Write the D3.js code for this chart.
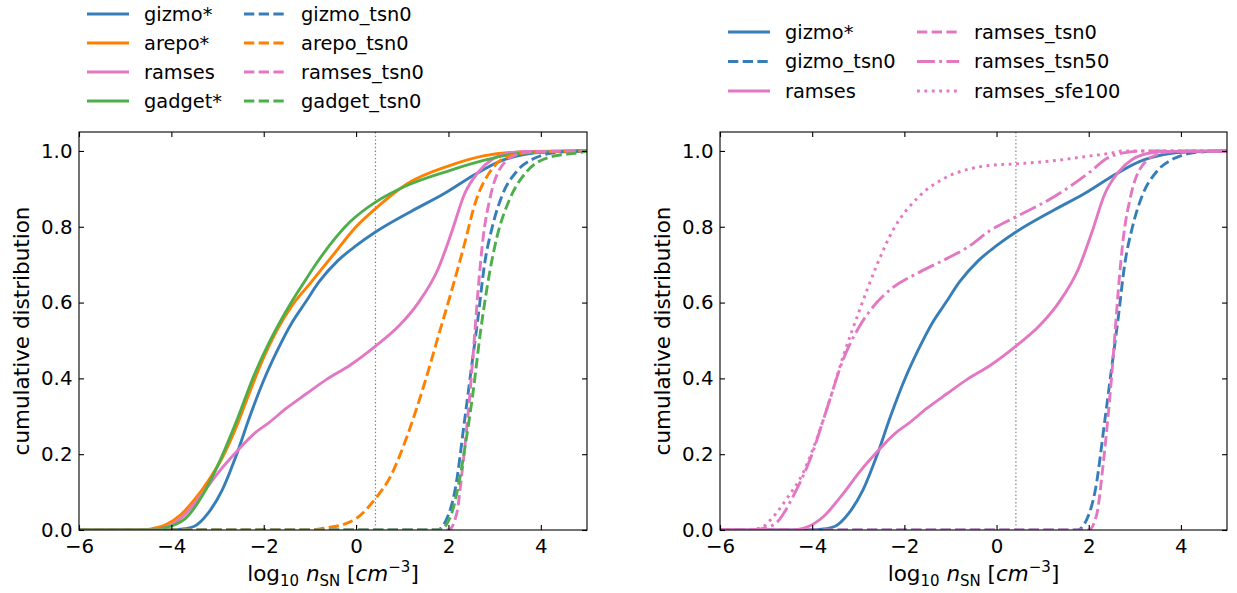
<!DOCTYPE html>
<html>
<head>
<meta charset="utf-8">
<script src="https://cdn.jsdelivr.net/npm/d3@7"></script>
<style>
  body { margin: 0; background: #fff; }
  svg { display: block; font-family: "DejaVu Sans", sans-serif; }
  .tick text { fill: #000; }
  .tick line { stroke: #000; stroke-width: 1.1px; }
</style>
</head>
<body>
<svg id="chart" width="1237" height="593"></svg>
<script>
// cumulative distributions, [log10 n, fraction]
const gizmo = [[-6,0],[-4.0,0],[-3.8,0.002],[-3.5,0.01],[-3.2,0.045],[-2.9,0.105],[-2.6,0.195],[-2.3,0.3],[-2.0,0.395],[-1.7,0.475],[-1.4,0.545],[-1.1,0.6],[-0.8,0.655],[-0.4,0.71],[0.0,0.75],[0.42,0.786],[1.2,0.841],[1.9,0.887],[2.6,0.94],[3.1,0.972],[3.6,0.99],[4.2,0.998],[5,1]];
const arepo = [[-6,0],[-4.6,0],[-4.4,0.004],[-4.1,0.015],[-3.8,0.04],[-3.5,0.08],[-3.2,0.13],[-2.9,0.19],[-2.6,0.27],[-2.3,0.365],[-2.0,0.455],[-1.7,0.53],[-1.4,0.59],[-1.0,0.65],[-0.5,0.725],[0.0,0.8],[0.42,0.848],[1.1,0.913],[2.04,0.962],[2.76,0.987],[3.5,0.997],[5,1]];
const ramses = [[-6,0],[-4.4,0],[-4.2,0.004],[-3.74,0.037],[-3.38,0.088],[-2.94,0.158],[-2.6,0.205],[-2.2,0.255],[-1.9,0.282],[-1.5,0.322],[-1.07,0.36],[-0.63,0.398],[-0.14,0.434],[0.42,0.485],[0.94,0.54],[1.35,0.6],[1.78,0.69],[2.07,0.786],[2.35,0.887],[2.65,0.945],[2.95,0.978],[3.3,0.994],[3.7,0.999],[5,1]];
const gadget = [[-6,0],[-4.4,0],[-4.2,0.004],[-3.9,0.015],[-3.7,0.03],[-3.3,0.097],[-2.94,0.185],[-2.58,0.29],[-2.22,0.405],[-1.86,0.5],[-1.43,0.595],[-1.14,0.651],[-0.85,0.705],[-0.13,0.813],[0.42,0.865],[1.1,0.909],[2.04,0.949],[2.76,0.975],[3.48,0.993],[4.2,0.998],[5,1]];

const gizmoTsn0 = [[-6,0],[1.75,0],[1.95,0.026],[2.15,0.11],[2.35,0.29],[2.5,0.43],[2.64,0.56],[2.78,0.7],[2.95,0.8],[3.17,0.885],[3.47,0.945],[3.85,0.98],[4.4,0.997],[5,1]];
const arepoTsn0 = [[-6,0],[-1.0,0],[-0.7,0.005],[-0.35,0.012],[0.0,0.03],[0.42,0.083],[0.74,0.14],[1.1,0.246],[1.46,0.378],[1.82,0.528],[2.03,0.615],[2.32,0.742],[2.61,0.874],[2.9,0.945],[3.26,0.984],[3.84,0.997],[5,1]];
const ramsesTsn0 = [[-6,0],[2.0,0],[2.17,0.039],[2.31,0.17],[2.42,0.3],[2.5,0.41],[2.57,0.52],[2.64,0.63],[2.75,0.77],[2.89,0.87],[3.1,0.95],[3.47,0.99],[3.8,0.998],[5,1]];
const gadgetTsn0 = [[-6,0],[1.8,0],[2.03,0.031],[2.21,0.114],[2.36,0.22],[2.54,0.37],[2.68,0.51],[2.85,0.65],[3.04,0.768],[3.33,0.874],[3.69,0.945],[4.2,0.984],[4.9,0.997],[5,1]];

const ramsesTsn50 = [[-6,0],[-5.3,0],[-5.0,0.006],[-4.76,0.021],[-4.4,0.092],[-4.04,0.188],[-3.68,0.32],[-3.32,0.452],[-2.96,0.54],[-2.6,0.6],[-2.3,0.635],[-1.66,0.681],[-1.08,0.716],[-0.64,0.745],[-0.14,0.79],[0.42,0.826],[1.3,0.883],[2.03,0.945],[2.39,0.98],[2.75,0.995],[3.2,1],[5,1]];
const ramsesSfe100 = [[-6,0],[-5.6,0],[-5.12,0.005],[-4.91,0.026],[-4.55,0.083],[-4.19,0.153],[-3.9,0.241],[-3.61,0.347],[-3.32,0.461],[-2.96,0.584],[-2.6,0.698],[-2.23,0.795],[-1.73,0.874],[-1.15,0.927],[-0.57,0.953],[-0.14,0.962],[0.42,0.966],[1.3,0.975],[2.03,0.987],[2.6,0.997],[2.7,1],[5,1]];

const xTicks = [-6, -4, -2, 0, 2, 4];
const yTicks = [0, 0.2, 0.4, 0.6, 0.8, 1.0];
const nCut = 0.42; // dotted reference density

const colors = { blue: "#377eb8", orange: "#ff7f00", pink: "#e377c2", green: "#4daf4a" };
const LW = 2.9;
const dashes = {
    solid: null,
    dashed: "10.3,4.4",
    dashdot: "17.8,4.4,2.8,4.4",
    dotted: "2.8,4.6"
};

const leftSeries = [
    { name: "gizmo*", data: gizmo, color: colors.blue, style: "solid" },
    { name: "arepo*", data: arepo, color: colors.orange, style: "solid" },
    { name: "ramses", data: ramses, color: colors.pink, style: "solid" },
    { name: "gadget*", data: gadget, color: colors.green, style: "solid" },
    { name: "gizmo_tsn0", data: gizmoTsn0, color: colors.blue, style: "dashed" },
    { name: "arepo_tsn0", data: arepoTsn0, color: colors.orange, style: "dashed" },
    { name: "ramses_tsn0", data: ramsesTsn0, color: colors.pink, style: "dashed" },
    { name: "gadget_tsn0", data: gadgetTsn0, color: colors.green, style: "dashed" }
];
const rightSeries = [
    { name: "gizmo*", data: gizmo, color: colors.blue, style: "solid" },
    { name: "gizmo_tsn0", data: gizmoTsn0, color: colors.blue, style: "dashed" },
    { name: "ramses", data: ramses, color: colors.pink, style: "solid" },
    { name: "ramses_tsn0", data: ramsesTsn0, color: colors.pink, style: "dashed" },
    { name: "ramses_tsn50", data: ramsesTsn50, color: colors.pink, style: "dashdot" },
    { name: "ramses_sfe100", data: ramsesSfe100, color: colors.pink, style: "dotted" }
];

const svg = d3.select("#chart");

function drawPanel(id, box, series, legend){
    let g = svg.append("g").attr("class", "panel").attr("id", id);
    let w = box.x1 - box.x0, h = box.y1 - box.y0;

    let x = d3.scaleLinear().domain([-6, 5]).range([box.x0, box.x1]);
    let y = d3.scaleLinear().domain([0, 1.05]).range([box.y1, box.y0]);

    g.append("defs").append("clipPath")
        .attr("id", `${id}-clip`)
      .append("rect")
        .attr("x", box.x0).attr("y", box.y0)
        .attr("width", w).attr("height", h);

    //reference line
    g.append("line")
        .attr("x1", x(nCut)).attr("x2", x(nCut))
        .attr("y1", box.y0).attr("y2", box.y1)
        .attr("stroke", "#808080")
        .attr("stroke-width", 1.2)
        .attr("stroke-dasharray", "1.4,2.3");

    let line = d3.line()
        .x(d => x(d[0]))
        .y(d => y(d[1]))
        .curve(d3.curveMonotoneX);

    g.append("g")
        .attr("clip-path", `url(#${id}-clip)`)
        .selectAll("path")
        .data(series)
      .join("path")
        .attr("d", d => line(d.data))
        .attr("fill", "none")
        .attr("stroke", d => d.color)
        .attr("stroke-width", LW)
        .attr("stroke-dasharray", d => dashes[d.style]);

    //axes, ticks pointing in on all four sides
    g.append("g")
        .attr("transform", `translate(0,${box.y1})`)
        .call(d3.axisBottom(x).tickValues(xTicks).tickSize(-5).tickPadding(8.5).tickFormat(d3.format("d")));
    g.append("g")
        .attr("transform", `translate(0,${box.y0})`)
        .call(d3.axisTop(x).tickValues(xTicks).tickSize(-5).tickFormat(""));
    g.append("g")
        .attr("transform", `translate(${box.x0},0)`)
        .call(d3.axisLeft(y).tickValues(yTicks).tickSize(-5).tickPadding(6.5).tickFormat(d3.format(".1f")));
    g.append("g")
        .attr("transform", `translate(${box.x1},0)`)
        .call(d3.axisRight(y).tickValues(yTicks).tickSize(-5).tickFormat(""));
    g.selectAll(".domain").remove();
    g.selectAll(".tick text").attr("font-family", "DejaVu Sans").attr("font-size", "19.8px");

    g.append("rect")
        .attr("x", box.x0).attr("y", box.y0)
        .attr("width", w).attr("height", h)
        .attr("fill", "none")
        .attr("stroke", "#000")
        .attr("stroke-width", 1.1);

    //axis labels
    g.append("text")
        .attr("transform", `translate(${box.x0 - 50},${(box.y0 + box.y1) / 2}) rotate(-90)`)
        .attr("text-anchor", "middle")
        .attr("font-size", "21.5px")
        .text("cumulative distribution");

    let xl = g.append("text")
        .attr("x", (box.x0 + box.x1) / 2)
        .attr("y", 581)
        .attr("text-anchor", "middle")
        .attr("font-size", "21.5px");
    xl.append("tspan").text("log");
    xl.append("tspan").attr("font-size", "15px").attr("dy", 4.5).text("10");
    xl.append("tspan").attr("dy", -4.5).attr("font-style", "italic").text(" n");
    xl.append("tspan").attr("font-size", "15px").attr("dy", 4.5).text("SN");
    xl.append("tspan").attr("dy", -4.5).text(" [");
    xl.append("tspan").attr("font-style", "italic").text("cm");
    xl.append("tspan").attr("font-size", "15px").attr("dy", -9).text("\u22123");
    xl.append("tspan").attr("dy", 9).text("]");

    //legend, filled column by column
    let items = g.append("g").attr("class", "legend")
        .selectAll("g")
        .data(series)
      .join("g")
        .attr("transform", (d, i) => {
            let col = Math.floor(i / legend.rows), row = i % legend.rows;
            return `translate(${legend.cols[col]},${legend.y0 + row * legend.dy})`;
        });
    items.append("line")
        .attr("x1", 0).attr("x2", legend.len)
        .attr("stroke", d => d.color)
        .attr("stroke-width", LW)
        .attr("stroke-dasharray", d => dashes[d.style]);
    items.append("text")
        .attr("x", legend.len + 15)
        .attr("dy", "0.35em")
        .attr("font-size", "19.4px")
        .text(d => d.name);
}

drawPanel("left", { x0: 79, x1: 587, y0: 132, y1: 530 }, leftSeries,
    { rows: 4, cols: [87, 244], y0: 14, dy: 29, len: 42 });
drawPanel("right", { x0: 720, x1: 1227, y0: 132, y1: 530 }, rightSeries,
    { rows: 3, cols: [728, 917], y0: 32, dy: 29.5, len: 42 });
</script>
</body>
</html>
